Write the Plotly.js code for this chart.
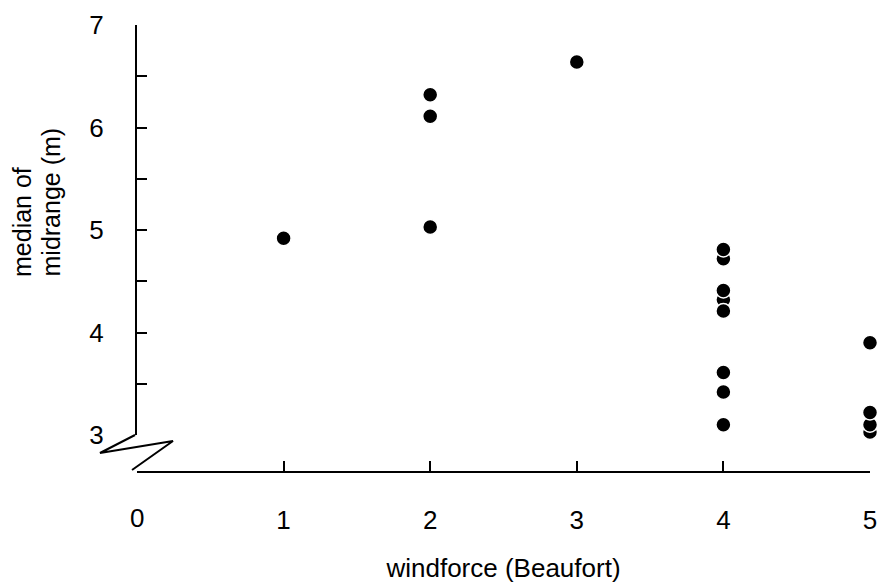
<!DOCTYPE html>
<html>
<head>
<meta charset="utf-8">
<script src="https://cdn.plot.ly/plotly-3.0.1.min.js"></script>
<style>html,body{margin:0;padding:0;background:#fff;}#chart{width:877px;height:583px;}</style>
</head>
<body>
<div id="chart"></div>
<script>
// windforce (Beaufort) for each observation
const windforce = [1, 2, 2, 2, 3, 4, 4, 4, 4, 4, 4, 4, 4, 5, 5, 5, 5];
// median of midrange (m)
const medianMidrange = [4.92, 5.03, 6.11, 6.32, 6.64, 4.32, 4.72, 3.10, 3.42, 3.61, 4.21, 4.41, 4.81, 3.03, 3.10, 3.22, 3.90];

const xTickVals = [1, 2, 3, 4, 5];
const xTickText = ['1', '2', '3', '4', '5'];
const yTickVals = [3, 3.5, 4, 4.5, 5, 5.5, 6, 6.5, 7];
const yTickText = ['3', '', '4', '', '5', '', '6', '', '7'];
const yTitleLines = ['median of', 'midrange (m)'];

const FONT = '"Liberation Sans", Arial, sans-serif';
const FS = 26;

const trace = {
  x: windforce,
  y: medianMidrange,
  type: 'scatter',
  mode: 'markers',
  cliponaxis: false,
  marker: {size: 15, color: '#000', line: {color: '#fff', width: 1.5}},
  hoverinfo: 'x+y'
};

const layout = {
  width: 877,
  height: 583,
  margin: {l: 137, r: 7, t: 25, b: 111},
  paper_bgcolor: '#fff',
  plot_bgcolor: '#fff',
  showlegend: false,
  font: {family: FONT, size: FS, color: '#000'},
  xaxis: {
    range: [0, 5],
    anchor: 'free',
    position: 0,
    showline: true,
    linecolor: '#000',
    linewidth: 2,
    showgrid: false,
    zeroline: false,
    tickmode: 'array',
    tickvals: xTickVals,
    ticktext: xTickText,
    ticks: 'inside',
    ticklen: 10,
    tickwidth: 2,
    tickcolor: '#000',
    ticklabelstandoff: 25,
    ticklabeloverflow: 'allow',
    tickfont: {family: FONT, size: FS, color: '#000'},
    title: {text: 'windforce (Beaufort)', font: {family: FONT, size: FS, color: '#000'}, standoff: 25},
    automargin: false
  },
  yaxis: {
    range: [3, 7],
    domain: [37 / 447, 1],
    showline: true,
    linecolor: '#000',
    linewidth: 2,
    showgrid: false,
    zeroline: false,
    tickmode: 'array',
    tickvals: yTickVals,
    ticktext: yTickText,
    ticks: 'inside',
    ticklen: 10,
    tickwidth: 2,
    tickcolor: '#000',
    ticklabelstandoff: 26,
    ticklabeloverflow: 'allow',
    tickfont: {family: FONT, size: FS, color: '#000'},
    automargin: false
  },
  shapes: [
    {
      type: 'path',
      xref: 'paper',
      yref: 'paper',
      path: 'M -0.0027 0.0828 L -0.0505 0.0425 L 0.0491 0.0694 L -0.0068 0.0045',
      line: {color: '#000', width: 2}
    }
  ],
  annotations: [
    {
      text: '0',
      xref: 'x', yref: 'paper',
      x: 0, y: 0,
      xanchor: 'center', yanchor: 'top',
      yshift: -29,
      showarrow: false,
      font: {family: FONT, size: FS, color: '#000'}
    },
    {
      text: yTitleLines[0],
      xref: 'paper', yref: 'paper',
      x: (22 - 137) / 733, y: (472 - 279) / 447,
      xanchor: 'center', yanchor: 'bottom',
      textangle: -90,
      showarrow: false,
      font: {family: FONT, size: 25, color: '#000'}
    },
    {
      text: yTitleLines[1],
      xref: 'paper', yref: 'paper',
      x: (50 - 137) / 733, y: (472 - 279) / 447,
      xanchor: 'center', yanchor: 'bottom',
      textangle: -90,
      showarrow: false,
      font: {family: FONT, size: 25, color: '#000'}
    }
  ]
};

Plotly.newPlot('chart', [trace], layout, {displayModeBar: false, staticPlot: true});
</script>
</body>
</html>
